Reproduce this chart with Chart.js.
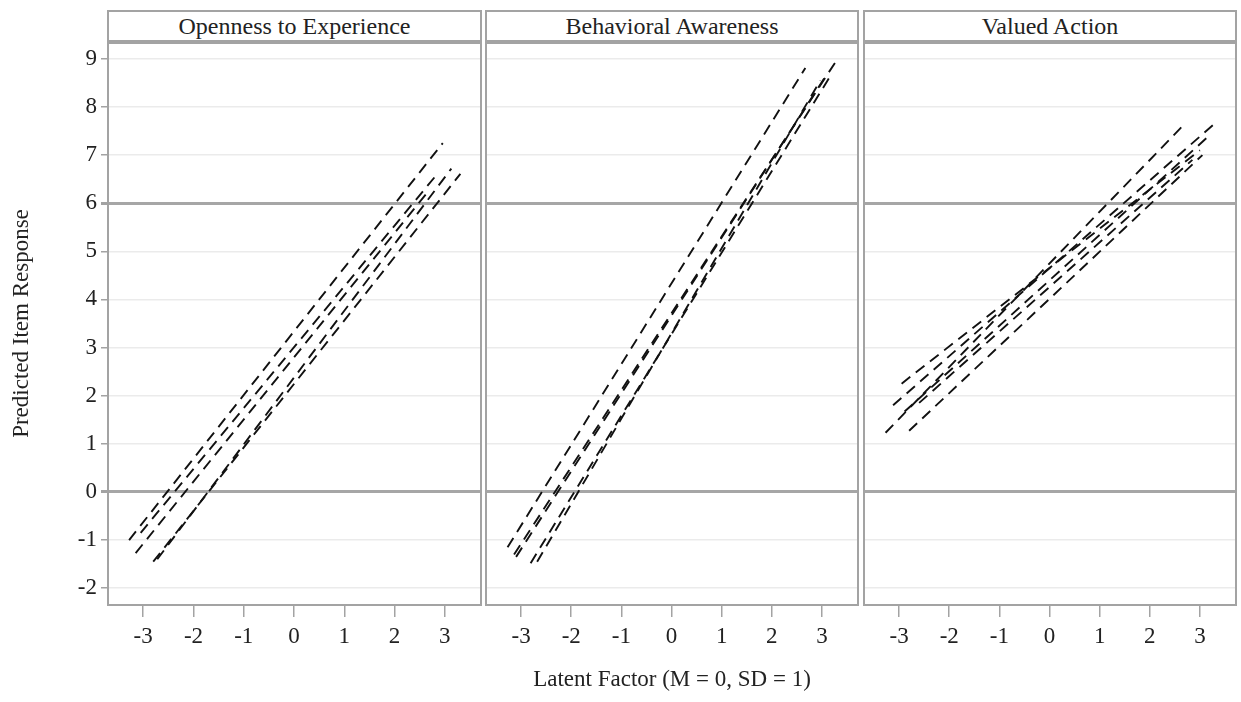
<!DOCTYPE html>
<html>
<head>
<meta charset="utf-8">
<script src="https://cdn.jsdelivr.net/npm/chart.js@4.4.1/dist/chart.umd.min.js"></script>
<style>
  body { margin: 0; background: #fff; width: 1241px; height: 702px; overflow: hidden; position: relative; font-family: "Liberation Serif", serif; }
  .strip { position: absolute; top: 10px; height: 28px; border: 2px solid #a3a3a3; border-bottom: 4px solid #a3a3a3; text-align: center; font-size: 24px; line-height: 29px; color: #222; }
  canvas { position: absolute; top: 42px; }
</style>
</head>
<body>
<div id="strips"></div>
<canvas id="p0" width="483" height="660" style="left:0px"></canvas>
<canvas id="p1" width="376" height="660" style="left:484px"></canvas>
<canvas id="p2" width="376" height="660" style="left:862px"></canvas>
<script>
// panel titles
const panels = ["Openness to Experience", "Behavioral Awareness", "Valued Action"];

// start / end of each item's predicted line: [x, y]
const opennessStart = [[-3.28, -1.00], [-3.05, -0.85], [-3.15, -1.27], [-2.72, -1.40], [-2.80, -1.45]];
const opennessEnd   = [[2.96, 7.25], [2.86, 6.62], [2.69, 6.27], [3.13, 6.72], [3.31, 6.61]];

const awarenessStart = [[-3.27, -1.15], [-3.14, -1.30], [-3.10, -1.35], [-2.81, -1.48], [-2.68, -1.45]];
const awarenessEnd   = [[2.67, 8.81], [3.30, 8.98], [3.05, 8.60], [3.16, 8.63], [2.97, 8.55]];

const actionStart = [[-3.27, 1.23], [-3.12, 1.80], [-2.95, 2.25], [-2.89, 1.67], [-2.80, 1.27], [-2.60, 1.85]];
const actionEnd   = [[2.68, 7.63], [3.30, 7.66], [3.00, 7.10], [3.15, 7.37], [3.05, 7.00], [2.85, 6.90]];

const xTicks = [-3, -2, -1, 0, 1, 2, 3];
const yTicks = [-2, -1, 0, 1, 2, 3, 4, 5, 6, 7, 8, 9];
const refLines = [0, 6];

const frameLeft = [108, 486, 864];
const frameRight = [481, 858, 1236];

const FONT = "'Liberation Serif', 'Times New Roman', serif";

// header strips
const stripBox = document.getElementById("strips");
panels.forEach((name, i) => {
    const d = document.createElement("div");
    d.className = "strip";
    d.style.left = (frameLeft[i] - 1) + "px";
    d.style.width = (frameRight[i] - frameLeft[i] - 2) + "px";
    d.textContent = name;
    stripBox.appendChild(d);
});

const framePlugin = {
    id: "frame",
    afterDraw(chart) {
        const a = chart.chartArea;
        const c = chart.ctx;
        c.save();
        c.strokeStyle = "#a3a3a3";
        c.lineWidth = 2;
        c.strokeRect(a.left, a.top, a.right - a.left, a.bottom - a.top);
        c.restore();
    }
};

function makeLines(starts, ends) {
    return starts.map((s, i) => ({
        data: [{ x: s[0], y: s[1] }, { x: ends[i][0], y: ends[i][1] }],
        showLine: true,
        borderColor: "#111",
        borderWidth: 1.9,
        borderDash: [11, 7],
        pointRadius: 0,
        fill: false
    }));
}

const sets = [
    makeLines(opennessStart, opennessEnd),
    makeLines(awarenessStart, awarenessEnd),
    makeLines(actionStart, actionEnd)
];

sets.forEach((datasets, i) => {
    const first = i === 0;
    new Chart(document.getElementById("p" + i), {
        type: "scatter",
        data: { datasets: datasets },
        options: {
            responsive: false,
            animation: false,
            layout: { padding: { top: 0, right: 2, left: 0, bottom: 0 } },
            plugins: { legend: { display: false }, tooltip: { enabled: false } },
            scales: {
                x: {
                    min: -3.7, max: 3.72,
                    afterBuildTicks: s => { s.ticks = xTicks.map(v => ({ value: v })); },
                    afterFit: s => { s.height = 97; s.paddingLeft = 0; s.paddingRight = 0; },
                    border: { display: false },
                    grid: { drawOnChartArea: false, drawTicks: true, tickLength: 12, tickColor: "#a3a3a3", lineWidth: 1.5 },
                    ticks: { color: "#222", font: { family: FONT, size: 23 }, padding: 6, maxRotation: 0 },
                    title: {
                        display: i === 1,
                        text: "Latent Factor (M = 0, SD = 1)",
                        color: "#222",
                        font: { family: FONT, size: 23 },
                        padding: { top: 0, bottom: 8 }
                    }
                },
                y: {
                    min: -2.35, max: 9.35,
                    afterBuildTicks: s => { s.ticks = yTicks.map(v => ({ value: v })); },
                    afterFit: s => { s.width = first ? 108 : 2; s.paddingTop = 0; s.paddingBottom = 0; },
                    border: { display: false },
                    grid: {
                        drawTicks: first,
                        tickLength: 7,
                        tickColor: "#a3a3a3",
                        color: c => refLines.includes(c.tick && c.tick.value) ? "#a6a6a6" : "#ebebeb",
                        lineWidth: c => refLines.includes(c.tick && c.tick.value) ? 3 : 1.5
                    },
                    ticks: { display: first, color: "#222", font: { family: FONT, size: 23 }, padding: 4 },
                    title: {
                        display: first,
                        text: "Predicted Item Response",
                        color: "#222",
                        font: { family: FONT, size: 23 },
                        padding: { top: 8, bottom: 0 }
                    }
                }
            }
        },
        plugins: [framePlugin]
    });
});
</script>
</body>
</html>
